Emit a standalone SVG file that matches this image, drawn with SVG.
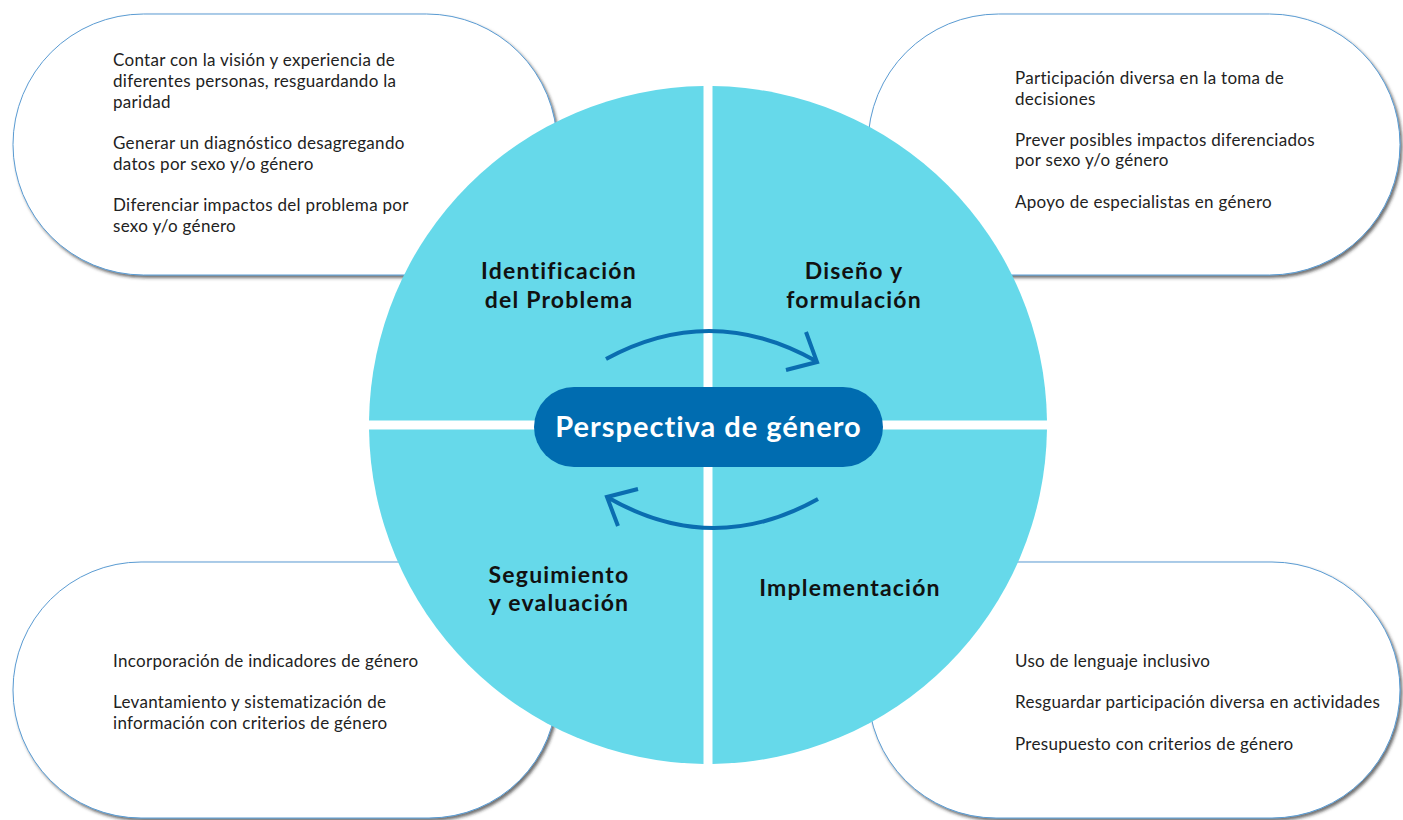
<svg xmlns="http://www.w3.org/2000/svg" width="1403" height="820" viewBox="0 0 1403 820">
<defs>
<filter id="sh" x="-5%" y="-5%" width="112%" height="115%">
<feDropShadow dx="2" dy="2.5" stdDeviation="1.6" flood-color="#222" flood-opacity="0.65"/>
</filter>
<style>
.pill{fill:#fff;stroke:#5a9bd2;stroke-width:1;filter:url(#sh)}
.q{fill:#66d9ea}
.t{font-family:Lato,"Noto Sans",sans-serif;font-size:17px;letter-spacing:0.3px;fill:#222}
.h{font-family:Lato,"Noto Sans",sans-serif;font-size:23px;letter-spacing:1.2px;font-weight:bold;fill:#111;text-anchor:middle}
.c{font-family:Lato,"Noto Sans",sans-serif;font-size:29px;letter-spacing:1px;font-weight:bold;fill:#fff;text-anchor:middle}
.arr{fill:none;stroke:#0a6db0;stroke-width:4}
</style>
</defs>
<rect width="1403" height="820" fill="#fff"/>
<g id="box-tl">
<rect class="pill" x="13" y="14" width="544" height="261" rx="130.5"/>
<text class="t" x="113" y="66">Contar con la visión y experiencia de</text>
<text class="t" x="113" y="87">diferentes personas, resguardando la</text>
<text class="t" x="113" y="108">paridad</text>
<text class="t" x="113" y="149">Generar un diagnóstico desagregando</text>
<text class="t" x="113" y="170">datos por sexo y/o género</text>
<text class="t" x="113" y="211">Diferenciar impactos del problema por</text>
<text class="t" x="113" y="232">sexo y/o género</text>
</g>
<g id="box-tr">
<rect class="pill" x="868" y="14" width="532" height="261" rx="130.5"/>
<text class="t" x="1015" y="84">Participación diversa en la toma de</text>
<text class="t" x="1015" y="105">decisiones</text>
<text class="t" x="1015" y="146">Prever posibles impactos diferenciados</text>
<text class="t" x="1015" y="166">por sexo y/o género</text>
<text class="t" x="1015" y="208">Apoyo de especialistas en género</text>
</g>
<g id="box-bl">
<rect class="pill" x="13" y="562" width="544" height="256" rx="128"/>
<text class="t" x="113" y="667">Incorporación de indicadores de género</text>
<text class="t" x="113" y="708">Levantamiento y sistematización de</text>
<text class="t" x="113" y="729">información con criterios de género</text>
</g>
<g id="box-br">
<rect class="pill" x="868" y="562" width="532" height="256" rx="128"/>
<text class="t" x="1015" y="667">Uso de lenguaje inclusivo</text>
<text class="t" x="1015" y="708">Resguardar participación diversa en actividades</text>
<text class="t" x="1015" y="750">Presupuesto con criterios de género</text>
</g>
<g id="q-identificacion">
<path class="q" d="M703.5,420.5 L703.5,86.03 A339,339 0 0 0 369.03,420.5 Z"/>
<text class="h" x="559" y="279">Identificación</text>
<text class="h" x="559" y="308">del Problema</text>
</g>
<g id="q-diseno">
<path class="q" d="M712.5,420.5 L1046.97,420.5 A339,339 0 0 0 712.5,86.03 Z"/>
<text class="h" x="854" y="279">Diseño y</text>
<text class="h" x="854" y="308">formulación</text>
</g>
<g id="q-implementacion">
<path class="q" d="M712.5,429.5 L712.5,763.97 A339,339 0 0 0 1046.97,429.5 Z"/>
<text class="h" x="850" y="596">Implementación</text>
</g>
<g id="q-seguimiento">
<path class="q" d="M703.5,429.5 L369.03,429.5 A339,339 0 0 0 703.5,763.97 Z"/>
<text class="h" x="559" y="583">Seguimiento</text>
<text class="h" x="559" y="611">y evaluación</text>
</g>
<g id="connectors">
<path class="arr" d="M606,359 Q711,302 816,361"/>
<polyline class="arr" points="806,332 817,362 786,370"/>
<path class="arr" d="M818,499 Q712,558 607,497"/>
<polyline class="arr" points="638,489 607,497 618,526"/>
</g>
<g id="center">
<rect x="534" y="387" width="349" height="80" rx="40" fill="#006cb0"/>
<text class="c" x="708.5" y="437">Perspectiva de género</text>
</g>
</svg>
